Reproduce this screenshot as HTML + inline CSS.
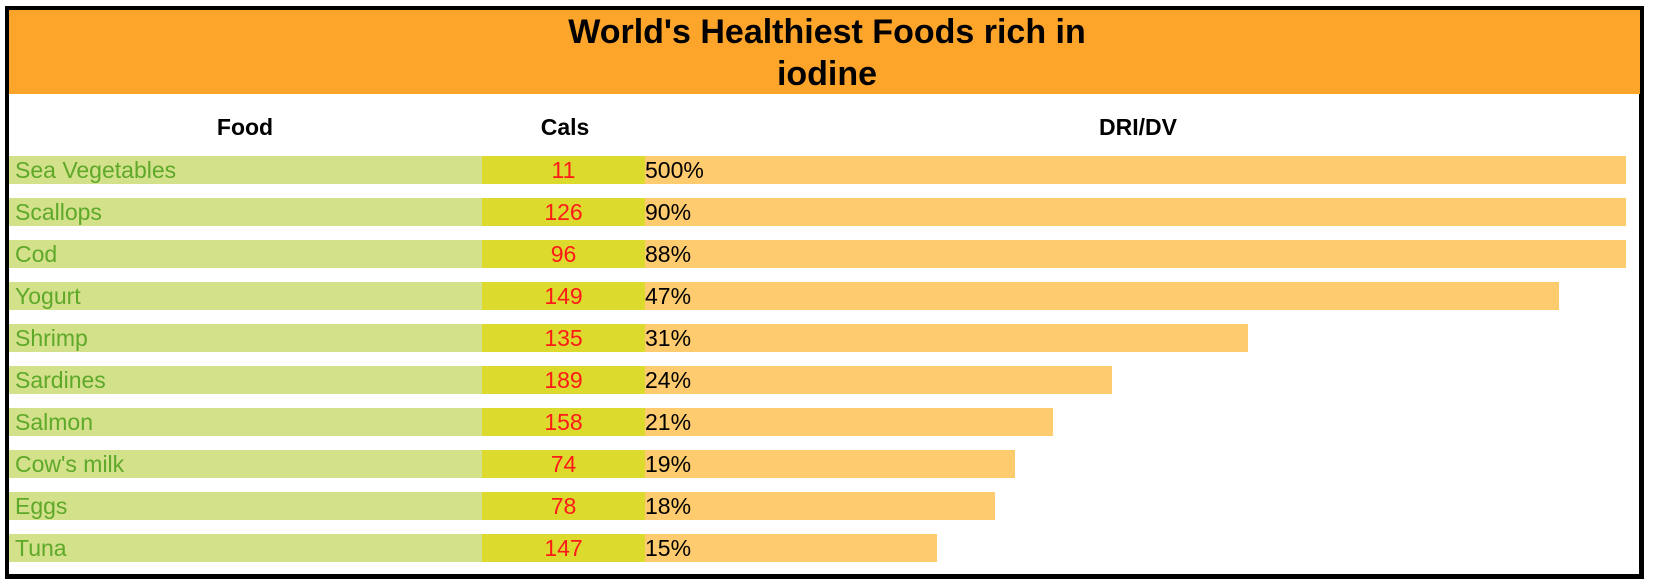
<!DOCTYPE html>
<html><head><meta charset="utf-8"><style>
body{margin:0;width:1654px;height:586px;background:#fff;position:relative;overflow:hidden;font-family:"Liberation Sans",Arial,sans-serif}
.frame{position:absolute;left:5px;top:6px;width:1630px;height:564px;border:5px solid #000;border-left-width:4px;border-top-width:4px}
.hdr{position:absolute;left:9px;top:10px;width:1631px;height:84px;background:#fda42b}
.title{position:absolute;left:0;width:1654px;top:11px;text-align:center;font-weight:bold;font-size:34px;line-height:42px;color:#000}
.col{position:absolute;top:114px;font-weight:bold;font-size:23px;transform:translateX(-50%)}
.cell{position:absolute;height:28px;line-height:28px;font-size:23px}
</style></head><body>
<div class="frame"></div>
<div class="hdr"></div>
<div class="title">World's Healthiest Foods rich in<br>iodine</div>
<div class="col" style="left:245px">Food</div>
<div class="col" style="left:565px">Cals</div>
<div class="col" style="left:1138px">DRI/DV</div>
<div id="rows"></div>
<script>
const foods=["Sea Vegetables","Scallops","Cod","Yogurt","Shrimp","Sardines","Salmon","Cow's milk","Eggs","Tuna"];
const cals=[11,126,96,149,135,189,158,74,78,147];
const dri=[500,90,88,47,31,24,21,19,18,15];
const X0=645, PX_PER_PCT=19.45, MAXW=981, Y0=156, PITCH=42;
function bw(v){return Math.min(v*PX_PER_PCT,MAXW);}
const root=document.getElementById('rows');
function mk(style,text,name){const d=document.createElement('div');d.className='cell';d.style.cssText=style;if(text!==undefined)d.textContent=text;


root.appendChild(d);return d;}
foods.forEach((f,i)=>{const y=Y0+i*PITCH;
mk(`left:9px;top:${y}px;width:473px;background:#d3e18a;color:#5ea82a;padding-left:6px;box-sizing:border-box`,f,'food-cell');
mk(`left:482px;top:${y}px;width:163px;background:#dcda2c;color:#ff1a1a;text-align:center`,cals[i],'cals-cell');
mk(`left:${X0}px;top:${y}px;width:${bw(dri[i])}px;background:#fecb6e`,undefined,'dri-bar');
mk(`left:${X0}px;top:${y}px;color:#000`,dri[i]+'%','dri-label');
});
</script>
</body></html>
